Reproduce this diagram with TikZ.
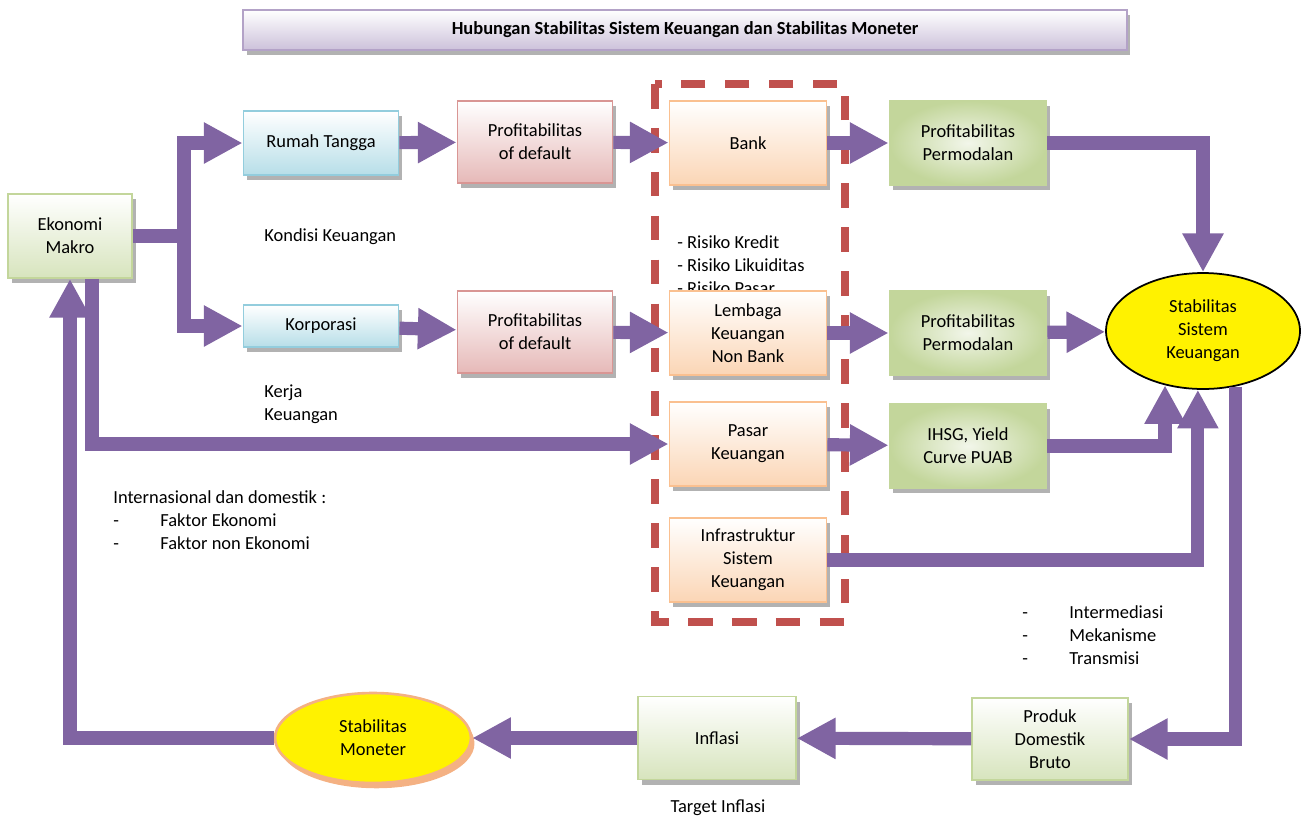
\documentclass[tikz,border=0pt]{standalone}
\usepackage{fontspec}
\setmainfont{Carlito}
\usepackage{tikz}
\usetikzlibrary{arrows.meta,shadows,shapes.geometric}
\definecolor{flowpurple}{HTML}{8064A2}
\definecolor{framered}{HTML}{C0504D}
\definecolor{HTMLB7DEE8}{HTML}{B7DEE8}
\definecolor{HTML93CDDD}{HTML}{93CDDD}
\definecolor{HTMLE6B9B8}{HTML}{E6B9B8}
\definecolor{HTMLD99694}{HTML}{D99694}
\definecolor{HTMLFBD5B5}{HTML}{FBD5B5}
\definecolor{HTMLFAC090}{HTML}{FAC090}
\definecolor{HTMLD7E4BD}{HTML}{D7E4BD}
\definecolor{HTMLC3D69B}{HTML}{C3D69B}
\definecolor{HTMLF2F6EA}{HTML}{F2F6EA}
\definecolor{HTMLCCC1DA}{HTML}{CCC1DA}
\definecolor{HTMLB3A2C7}{HTML}{B3A2C7}
\definecolor{HTMLF4B183}{HTML}{F4B183}
\tikzset{
boxnode/.style = {rectangle, minimum width=3.14cm, minimum height=#1, inner sep=2pt, line width=1.1pt, align=center,
  general shadow={fill=black, opacity=.3, shadow xshift=2pt, shadow yshift=-3pt}},
boxnode/.default = 1.68cm % most of the boxes
}
\tikzset{bluebox/.style={top color=white, bottom color=HTMLB7DEE8, draw=HTML93CDDD}}
\tikzset{redbox/.style={top color=white, bottom color=HTMLE6B9B8, draw=HTMLD99694}}
\tikzset{orangebox/.style={top color=white, bottom color=HTMLFBD5B5, draw=HTMLFAC090}}
\tikzset{greenbox/.style={top color=white, bottom color=HTMLD7E4BD, draw=HTMLC3D69B}}
\tikzset{profitbox/.style={inner color=HTMLF2F6EA, outer color=HTMLC3D69B, draw=HTMLC3D69B}}
\tikzset{flow/.style={draw=flowpurple, line width=7.5pt, -{Triangle[length=22pt,width=22pt]}}}
\tikzset{lbl/.style={anchor=west, align=left, inner sep=0pt}}

\begin{document}
\begin{tikzpicture}[x=0.02cm, y=-0.02cm,
      every node/.style={font=\fontsize{10.5}{13}\selectfont}]
      \useasboundingbox (0,0) rectangle (1302,816);
      \node [boxnode=0.8cm, minimum width=17.68cm, top color=white, bottom color=HTMLCCC1DA, draw=HTMLB3A2C7,
        font=\fontsize{10.5}{12}\selectfont\bfseries] (title) at (685,30)
        {Hubungan Stabilitas Sistem Keuangan dan Stabilitas Moneter};
      % texts beside the arrows
      \node [lbl] (kondisi) at (264,237) {Kondisi Keuangan};
      \node [lbl] (kerja) at (264,404) {Kerja\\Keuangan};
      \node [lbl] (risiko) at (677,265) {- Risiko Kredit\\- Risiko Likuiditas\\- Risiko Pasar};
      \node [lbl] (faktor) at (113,520) {Internasional dan domestik :\\
        \makebox[0.94cm][l]{-}Faktor Ekonomi\\\makebox[0.94cm][l]{-}Faktor non Ekonomi};
      \node [lbl] (saluran) at (1022,635) {\makebox[0.94cm][l]{-}Intermediasi\\
        \makebox[0.94cm][l]{-}Mekanisme\\\makebox[0.94cm][l]{-}Transmisi};
      \node (target) at (718,808) {Target Inflasi};
      \draw [framered, line width=4pt, dash pattern=on 14pt off 11pt] (655,84) rectangle (845,622);
      % boxes
      \node [boxnode, minimum width=2.48cm, greenbox] (ekonomi) at (70,236) {Ekonomi\\Makro};
      \node [boxnode=1.28cm, minimum width=3.1cm, bluebox] (rumah) at (321,143) {Rumah Tangga};
      \node [boxnode=0.84cm, minimum width=3.1cm, bluebox] (korporasi) at (321,326) {Korporasi};
      \node [boxnode=1.64cm, minimum width=3.1cm, redbox] (default1) at (535,142) {Profitabilitas\\of default};
      \node [boxnode=1.64cm, minimum width=3.1cm, redbox] (default2) at (535,332) {Profitabilitas\\of default};
      \node [boxnode, orangebox] (bank) at (748,143) {Bank};
      \node [boxnode, orangebox] (lembaga) at (748,333) {Lembaga\\Keuangan\\Non Bank};
      \node [boxnode, orangebox] (pasar) at (748,444) {Pasar\\Keuangan};
      \node [boxnode, orangebox] (infra) at (748,560) {Infrastruktur\\Sistem\\Keuangan};
      \node [boxnode, profitbox] (modal1) at (968,143) {Profitabilitas\\Permodalan};
      \node [boxnode, profitbox] (modal2) at (968,333) {Profitabilitas\\Permodalan};
      \node [boxnode, profitbox] (ihsg) at (968,446) {IHSG, Yield\\Curve PUAB};
      \node [ellipse, minimum width=3.88cm, minimum height=2.32cm, fill=yellow, draw=black, line width=1pt,
        align=center] (ssk) at (1203,331) {Stabilitas\\Sistem\\Keuangan};
      \node [boxnode=1.64cm, minimum width=3.12cm, greenbox] (pdb) at (1050,739) {Produk\\Domestik\\Bruto};
      \node [boxnode=1.66cm, minimum width=3.16cm, greenbox] (inflasi) at (717,738) {Inflasi};
      \node [ellipse, minimum width=3.92cm, minimum height=1.8cm, fill=yellow, draw=HTMLF4B183, line width=1.5pt,
        align=center, general shadow={fill=HTMLF4B183, shadow xshift=2pt, shadow yshift=-3pt}] (moneter) at (373,738)
        {Stabilitas\\Moneter};
      % arrows
      \draw [flow] (ekonomi.east) -- ++(51,0) |- (rumah.west);
      \draw [flow] (ekonomi.east) -- ++(51,0) |- (korporasi.west);
      \draw [flow] ([xshift=0.44cm]ekonomi.south) |- (pasar.west);
      \draw [flow] (rumah) -- (default1);
      \draw [flow] (korporasi) -- (default2);
      \draw [flow] (default1) -- (bank);
      \draw [flow] (default2) -- (lembaga);
      \draw [flow] (bank) -- (modal1);
      \draw [flow] (lembaga) -- (modal2);
      \draw [flow] (pasar) -- (ihsg);
      \draw [flow] (modal1.east) -| (ssk.north);
      \draw [flow] (modal2) -- (ssk);
      \draw [flow] (ihsg.east) -| (ssk.-125);
      \draw [flow] (infra.east) -| (ssk.-95);
      \draw [flow] (ssk.-60) |- (pdb.east);
      \draw [flow] (pdb) -- (inflasi);
      \draw [flow] (inflasi) -- (moneter);
      \draw [flow] (moneter.west) -| (ekonomi.south);
    \end{tikzpicture}
\end{document}
